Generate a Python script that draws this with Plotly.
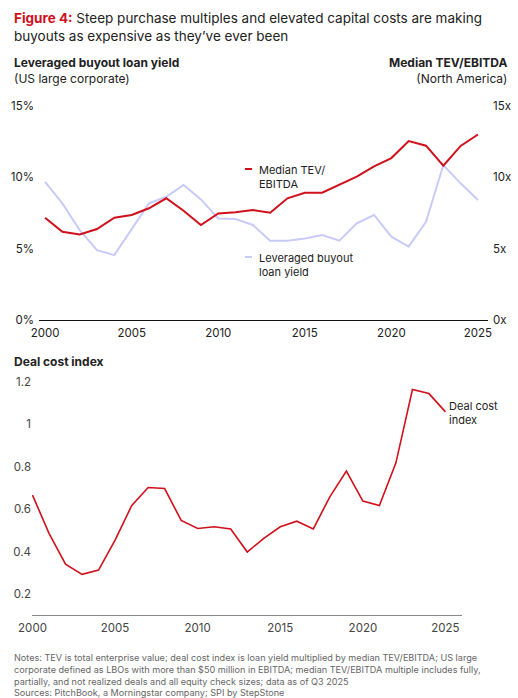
import plotly.graph_objects as go

years = list(range(2000, 2026))
tev_ebitda = [7.17, 6.19, 6.0, 6.38, 7.17, 7.36, 7.83, 8.53, 7.66, 6.66, 7.47, 7.55, 7.71, 7.52, 8.53,
              8.92, 8.92, 9.46, 10.05, 10.77, 11.35, 12.54, 12.22, 10.82, 12.2, 13.0]
loan_yield = [9.69, 8.17, 6.3, 4.9, 4.55, 6.38, 8.17, 8.64, 9.46, 8.45, 7.12, 7.08, 6.66, 5.56, 5.56,
              5.72, 5.96, 5.56, 6.77, 7.36, 5.84, 5.14, 6.89, 10.86, 9.58, 8.41]
deal_cost = [0.666, 0.486, 0.341, 0.293, 0.313, 0.454, 0.616, 0.702, 0.697, 0.547, 0.509, 0.517, 0.506,
             0.398, 0.462, 0.517, 0.543, 0.507, 0.658, 0.779, 0.638, 0.617, 0.818, 1.163, 1.144, 1.058]

x_ticks = [2000, 2005, 2010, 2015, 2020, 2025]
top_left_ticks = [0, 5, 10, 15]
top_left_text = ["0%", "5%", "10%", "15%"]
top_right_text = ["0x", "5x", "10x", "15x"]
bottom_ticks = [0.2, 0.4, 0.6, 0.8, 1.0, 1.2]
bottom_text = ["0.2", "0.4", "0.6", "0.8", "1", "1.2"]

RED = "#D0101B"
LAV = "#C8CAF8"
TXT = "#222222"
FONT = "Inter"
W, H = 518, 698

def px(x):
    return x / W

def py(y):
    return 1 - y / H

fig = go.Figure()
fig.add_trace(go.Scatter(x=years, y=loan_yield, mode="lines", line=dict(color=LAV, width=2),
                         xaxis="x", yaxis="y", showlegend=False, hoverinfo="skip"))
fig.add_trace(go.Scatter(x=years, y=tev_ebitda, mode="lines", line=dict(color=RED, width=2),
                         xaxis="x", yaxis="y2", showlegend=False, hoverinfo="skip"))
fig.add_trace(go.Scatter(x=years, y=deal_cost, mode="lines", line=dict(color=RED, width=1.6),
                         xaxis="x2", yaxis="y3", showlegend=False, hoverinfo="skip"))

tickfont = dict(family=FONT, size=11.5, color=TXT)
fig.update_layout(
    width=W, height=H, margin=dict(l=0, r=0, t=0, b=0, autoexpand=False),
    paper_bgcolor="white", plot_bgcolor="white",
    xaxis=dict(domain=[px(39), px(488)], range=[1999.65, 2025.58], tickvals=x_ticks,
               showgrid=False, zeroline=False, showline=True, linecolor="#111111", linewidth=1.2,
               ticks="", tickfont=tickfont, anchor="y", automargin=False, ticklabelstandoff=2),
    yaxis=dict(domain=[py(320), py(106)], range=[0, 15], tickvals=top_left_ticks, ticktext=top_left_text,
               showgrid=False, zeroline=False, showline=False, ticks="", tickfont=tickfont,
               anchor="x", ticklabelstandoff=4, automargin=False),
    yaxis2=dict(domain=[py(320), py(106)], range=[0, 15], tickvals=top_left_ticks, ticktext=top_right_text,
                overlaying="y", side="right", showgrid=False, zeroline=False, showline=False, ticks="",
                tickfont=tickfont, anchor="x", ticklabelstandoff=4, automargin=False),
    xaxis2=dict(domain=[px(32), px(462)], range=[1999.97, 2026.0], tickvals=x_ticks,
                showgrid=False, zeroline=False, showline=True, linecolor="#888888", linewidth=1,
                ticks="", tickfont=dict(family=FONT, size=11.5, color="#444444"), anchor="y3",
                automargin=False, ticklabelstandoff=2),
    yaxis3=dict(domain=[py(615.3), py(381.7)], range=[0.1, 1.2], tickvals=bottom_ticks, ticktext=bottom_text,
                showgrid=False, zeroline=False, showline=False, ticks="",
                tickfont=dict(family=FONT, size=11.5, color="#444444"), anchor="x2", automargin=False),
)

ann = []
ann.append(dict(x=px(12), y=py(8), xref="paper", yref="paper", xanchor="left", yanchor="top", align="left",
                text=f"<b><span style='color:{RED}'>Figure 4:</span></b> Steep purchase multiples and elevated capital costs are making<br>buyouts as expensive as they’ve ever been",
                showarrow=False, font=dict(family=FONT, size=13.5, color=TXT)))
ann.append(dict(x=px(12), y=py(53), xref="paper", yref="paper", xanchor="left", yanchor="top", align="left",
                text="<b>Leveraged buyout loan yield</b><br>(US large corporate)",
                showarrow=False, font=dict(family=FONT, size=12, color=TXT)))
ann.append(dict(x=px(510), y=py(53), xref="paper", yref="paper", xanchor="right", yanchor="top", align="right",
                text="<b>Median TEV/EBITDA</b><br>(North America)",
                showarrow=False, font=dict(family=FONT, size=12, color=TXT)))
ann.append(dict(x=px(257), y=py(161), xref="paper", yref="paper", xanchor="left", yanchor="top", align="left",
                text="Median TEV/<br>EBITDA", showarrow=False, font=dict(family=FONT, size=11, color=TXT)))
ann.append(dict(x=px(257), y=py(249), xref="paper", yref="paper", xanchor="left", yanchor="top", align="left",
                text="Leveraged buyout<br>loan yield", showarrow=False, font=dict(family=FONT, size=11, color=TXT)))
ann.append(dict(x=px(12), y=py(352), xref="paper", yref="paper", xanchor="left", yanchor="top", align="left",
                text="<b>Deal cost index</b>", showarrow=False, font=dict(family=FONT, size=12, color=TXT)))
ann.append(dict(x=px(447), y=py(397), xref="paper", yref="paper", xanchor="left", yanchor="top", align="left",
                text="Deal cost<br>index", showarrow=False, font=dict(family=FONT, size=11, color=TXT)))
ann.append(dict(x=px(12), y=py(650), xref="paper", yref="paper", xanchor="left", yanchor="top", align="left",
                text="Notes: TEV is total enterprise value; deal cost index is loan yield multiplied by median TEV/EBITDA; US large<br>"
                     "corporate defined as LBOs with more than $50 million in EBITDA; median TEV/EBITDA multiple includes fully,<br>"
                     "partially, and not realized deals and all equity check sizes; data as of Q3 2025<br>"
                     "Sources: PitchBook, a Morningstar company; SPI by StepStone",
                showarrow=False, font=dict(family=FONT, size=9.1, color="#666666")))
fig.update_layout(annotations=ann)

fig.update_layout(shapes=[
    dict(type="line", xref="paper", yref="paper", x0=px(245), x1=px(252), y0=py(169), y1=py(169),
         line=dict(color=RED, width=2)),
    dict(type="line", xref="paper", yref="paper", x0=px(245), x1=px(252), y0=py(257), y1=py(257),
         line=dict(color=LAV, width=2)),
])

fig.write_html("out.html")
